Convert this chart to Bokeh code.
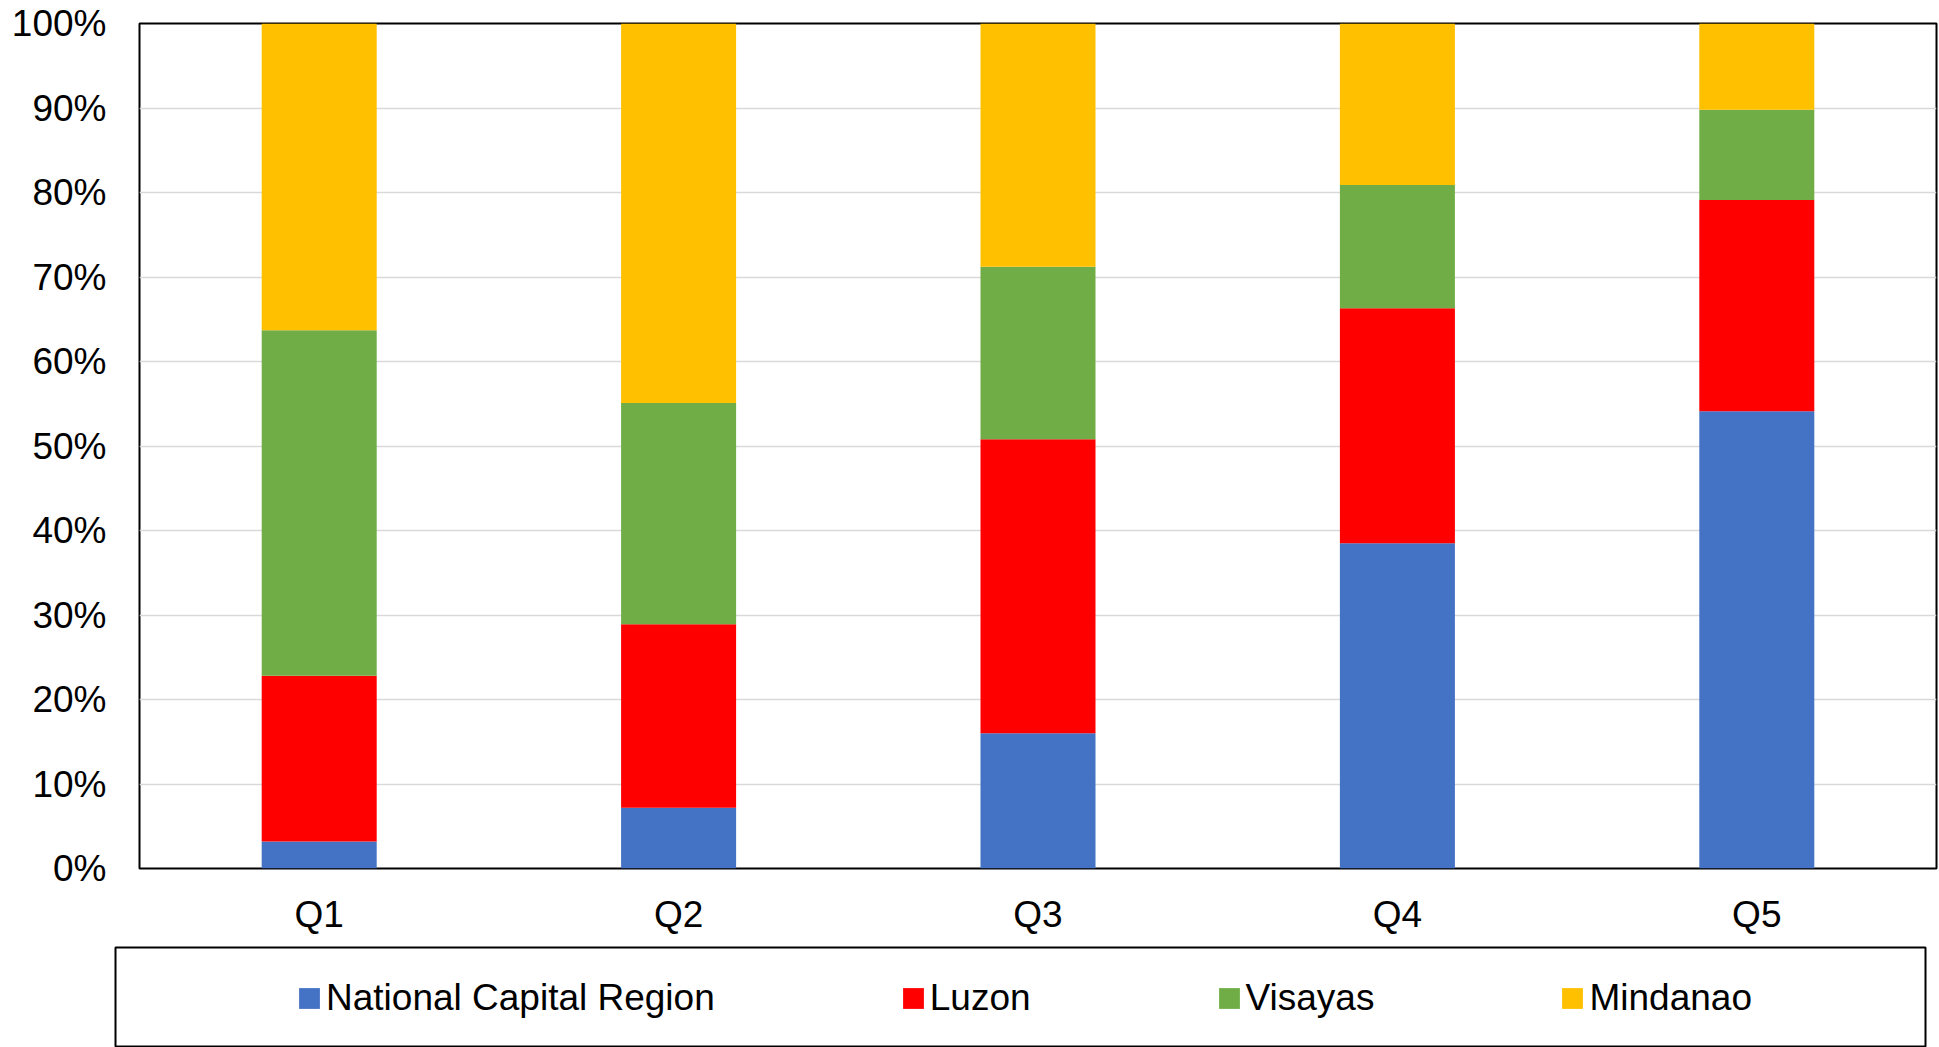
from bokeh.plotting import figure
from bokeh.models import (ColumnDataSource, FactorRange, Range1d, FixedTicker,
                          NumeralTickFormatter, Legend, LegendItem)
from bokeh.layouts import column
from bokeh.embed import file_html
from bokeh.resources import INLINE

# ---- data ----
quintiles = ["Q1", "Q2", "Q3", "Q4", "Q5"]
regions = ["National Capital Region", "Luzon", "Visayas", "Mindanao"]
ncr = [0.032, 0.072, 0.160, 0.385, 0.541]
luzon = [0.196, 0.217, 0.348, 0.278, 0.250]
visayas = [0.409, 0.262, 0.204, 0.146, 0.107]
mindanao = [0.363, 0.449, 0.288, 0.191, 0.102]
y_ticks = [0.0, 0.1, 0.2, 0.3, 0.4, 0.5, 0.6, 0.7, 0.8, 0.9, 1.0]
colors = ["#4472C4", "#FF0000", "#70AD47", "#FFC000"]

source = ColumnDataSource(data={
    "q": quintiles,
    "National Capital Region": ncr,
    "Luzon": luzon,
    "Visayas": visayas,
    "Mindanao": mindanao,
})

FONT = "Liberation Sans"

p = figure(x_range=FactorRange(*quintiles, range_padding=0),
           y_range=Range1d(0, 1),
           width=1938, height=943,
           min_border_left=139, min_border_right=2,
           min_border_top=23, min_border_bottom=75,
           output_backend="svg", toolbar_location=None)
p.frame_align = False

p.vbar_stack(regions, x="q", width=0.32, color=colors, line_color=None,
             source=source)

p.xgrid.grid_line_color = None
p.ygrid.grid_line_color = "#d9d9d9"
p.ygrid.grid_line_width = 1.5
p.yaxis.ticker = FixedTicker(ticks=y_ticks)
p.yaxis.formatter = NumeralTickFormatter(format="0%")

for ax in (p.xaxis, p.yaxis):
    ax.axis_line_color = None
    ax.major_tick_line_color = None
    ax.minor_tick_line_color = None
    ax.major_label_text_font = FONT
    ax.major_label_text_font_size = "37px"
    ax.major_label_text_color = "black"
p.xaxis.major_label_standoff = 19
p.yaxis.major_label_standoff = 27

p.outline_line_color = "black"
p.outline_line_width = 2
p.outline_line_alpha = 1

# ---- legend box ----
p2 = figure(x_range=p.x_range, y_range=Range1d(2, 3),
            width=1938, height=104,
            min_border_left=115, min_border_right=13,
            min_border_top=4, min_border_bottom=0,
            x_axis_location=None, y_axis_location=None,
            output_backend="svg", toolbar_location=None)
p2.frame_align = False
p2.grid.visible = False
p2.outline_line_color = "black"
p2.outline_line_width = 2
rs = p2.vbar_stack(regions, x="q", width=0.32, color=colors, line_color=None,
                   source=source)

legend = Legend(items=[LegendItem(label=n, renderers=[r]) for n, r in zip(regions, rs)],
                orientation="horizontal", location=(181, 28),
                padding=0, margin=0, spacing=185,
                glyph_width=26, glyph_height=26, label_standoff=4,
                label_text_font=FONT, label_text_font_size="37px",
                label_text_color="black",
                border_line_color=None, background_fill_alpha=0)
p2.add_layout(legend)

layout = column(p, p2, spacing=0)
open("out.html", "w").write(file_html(layout, INLINE))
